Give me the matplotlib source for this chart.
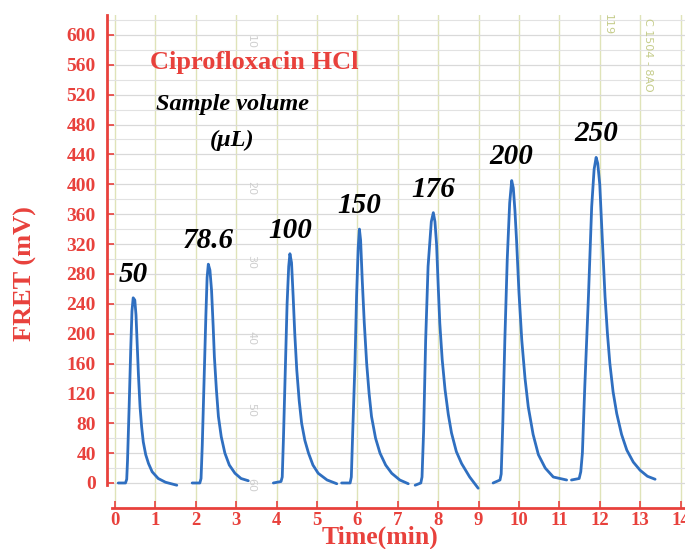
import matplotlib
matplotlib.use("Agg")
import matplotlib.pyplot as plt

# ---- data ----
peak1_t = [0.08, 0.26, 0.29, 0.31, 0.35, 0.39, 0.42, 0.45, 0.49, 0.52, 0.55, 0.58, 0.62,
           0.66, 0.70, 0.76, 0.83, 0.92, 1.07, 1.25, 1.53]
peak1_v = [0, 0, 5, 30, 102, 180, 230, 248, 245, 225, 185, 145, 102,
           75, 55, 38, 26, 15, 6, 1, -3]

peak2_t = [1.91, 2.10, 2.13, 2.16, 2.21, 2.25, 2.28, 2.31, 2.35, 2.39, 2.43, 2.46, 2.51,
           2.56, 2.63, 2.72, 2.83, 2.97, 3.12, 3.30]
peak2_v = [0, 0, 6, 50, 147, 225, 275, 293, 285, 258, 210, 169, 125,
           89, 62, 40, 24, 13, 6, 3]

peak3_t = [3.92, 4.11, 4.14, 4.17, 4.22, 4.26, 4.30, 4.33, 4.37, 4.41, 4.45, 4.50, 4.56,
           4.62, 4.70, 4.79, 4.90, 5.03, 5.25, 5.49]
peak3_v = [0, 2, 8, 60, 160, 240, 290, 307, 295, 250, 200, 151, 110,
           80, 57, 40, 24, 13, 4, -1]

peak4_t = [5.61, 5.82, 5.85, 5.88, 5.94, 5.98, 6.02, 6.05, 6.08, 6.12, 6.17, 6.23, 6.29,
           6.35, 6.45, 6.56, 6.70, 6.85, 7.05, 7.26]
peak4_v = [0, 0, 8, 60, 160, 250, 315, 340, 325, 272, 215, 160, 120,
           89, 60, 40, 24, 13, 4, -1]

peak5_t = [7.43, 7.57, 7.60, 7.64, 7.69, 7.75, 7.83, 7.88, 7.92, 7.96, 8.00, 8.04, 8.10,
           8.17, 8.25, 8.33, 8.45, 8.58, 8.78, 8.99]
peak5_v = [-3, 0, 8, 70, 191, 290, 350, 362, 350, 320, 265, 214, 165,
           125, 92, 67, 42, 26, 8, -7]

peak6_t = [9.36, 9.53, 9.56, 9.60, 9.65, 9.71, 9.77, 9.82, 9.86, 9.90, 9.94, 10.00, 10.07,
           10.15, 10.23, 10.35, 10.48, 10.65, 10.85, 11.18]
peak6_v = [0, 4, 12, 80, 191, 300, 375, 405, 395, 365, 325, 255, 191,
           140, 102, 65, 38, 20, 8, 4]

peak7_t = [11.30, 11.49, 11.53, 11.57, 11.63, 11.72, 11.80, 11.86, 11.91, 11.95, 12.00,
           12.06, 12.13, 12.19, 12.25, 12.33, 12.42, 12.54, 12.67, 12.83, 13.00, 13.18, 13.37]
peak7_v = [4, 6, 15, 40, 130, 250, 370, 420, 436, 428, 400,
           330, 250, 200, 160, 122, 93, 65, 44, 28, 17, 9, 5]

sample_volumes = ["50", "78.6", "100", "150", "176", "200", "250"]

x_ticks = list(range(0, 15))
y_ticks = list(range(0, 601, 40))

peaks_t = [peak1_t, peak2_t, peak3_t, peak4_t, peak5_t, peak6_t, peak7_t]
peaks_v = [peak1_v, peak2_v, peak3_v, peak4_v, peak5_v, peak6_v, peak7_v]

# ---- styling ----
RED = "#e8413c"
BLUE = "#2f6fc0"
SERIF = ["Liberation Serif", "DejaVu Serif"]

fig = plt.figure(figsize=(6.85, 5.49), dpi=100)
W, H = 685, 549
ax = fig.add_axes([107 / W, (H - 508) / H, (685 - 107) / W, (508 - 15) / H])

ax.set_xlim(-0.198, 14.11)
ax.set_ylim(-33.5, 626.7)

# paper grid
ax.set_yticks(list(range(0, 621, 20)), minor=True)
ax.grid(True, which="minor", axis="y", color="#e2e2e2", lw=0.8)
ax.grid(True, which="major", axis="y", color="#d9d9d9", lw=0.9)
ax.grid(True, which="major", axis="x", color="#dfe3b8", lw=1.0)
ax.set_axisbelow(True)

for t, v in zip(peaks_t, peaks_v):
    ax.plot(t, v, color=BLUE, lw=2.0, solid_joinstyle="round", solid_capstyle="round")

for t, v, lab in zip(peaks_t, peaks_v, sample_volumes):
    i = v.index(max(v))
    ax.annotate(lab, (t[i], v[i]), xytext=(0, 17), textcoords="offset points",
                ha="center", va="center", fontsize=21, fontweight="bold",
                fontstyle="italic", family=SERIF, color="black")

# axes / spines
for s in ["top", "right"]:
    ax.spines[s].set_visible(False)
ax.spines["left"].set_color(RED)
ax.spines["left"].set_linewidth(2)
ax.spines["left"].set_bounds(-3, 626.7)
ax.spines["bottom"].set_color(RED)
ax.spines["bottom"].set_linewidth(2)
ax.spines["bottom"].set_bounds(-0.07, 14.11)

ax.set_xticks(x_ticks)
ax.set_yticks(y_ticks)
ax.tick_params(axis="both", which="major", direction="in", color=RED, width=1.2,
               length=5, labelcolor=RED)
ax.tick_params(axis="y", which="minor", length=0)
ax.tick_params(axis="y", pad=8)
ax.tick_params(axis="x", pad=3)
for lbl in ax.get_yticklabels():
    lbl.set_family(SERIF)
    lbl.set_fontweight("bold")
    lbl.set_fontsize(14)
for lbl in ax.get_xticklabels():
    lbl.set_family(SERIF)
    lbl.set_fontweight("bold")
    lbl.set_fontsize(13.5)

fig.text(380 / W, 1 - 537 / H, "Time(min)", ha="center", va="center", fontsize=18.5,
         fontweight="bold", family=SERIF, color=RED)
fig.text(25 / W, 1 - 274 / H, "FRET (mV)", ha="center", va="center", fontsize=19,
         fontweight="bold", family=SERIF, color=RED, rotation=90)

fig.text(150 / W, 1 - 62 / H, "Ciprofloxacin HCl", ha="left", va="center", fontsize=19,
         fontweight="bold", family=SERIF, color=RED)
fig.text(232 / W, 1 - 104 / H, "Sample volume", ha="center", va="center", fontsize=17.5,
         fontweight="bold", fontstyle="italic", family=SERIF, color="black")
fig.text(232 / W, 1 - 140 / H, "(\u03bcL)", ha="center", va="center", fontsize=17.5,
         fontweight="bold", fontstyle="italic", family=SERIF, color="black")

# faint chart-paper markings
for txt, yy in zip(["10", "20", "30", "40", "50", "60"], [42, 188, 262, 338, 410, 485]):
    fig.text(251 / W, 1 - yy / H, txt, ha="center", va="center", fontsize=8,
             color="#cfcfcf", rotation=-90)
fig.text(608 / W, 1 - 25 / H, "119", ha="center", va="center", fontsize=8,
         color="#c5cc8a", rotation=-90)
fig.text(648 / W, 1 - 55 / H, "C 1504 - 8AO", ha="center", va="center", fontsize=8,
         color="#c5cc8a", rotation=-90)

fig.savefig("out.png", dpi=100)
